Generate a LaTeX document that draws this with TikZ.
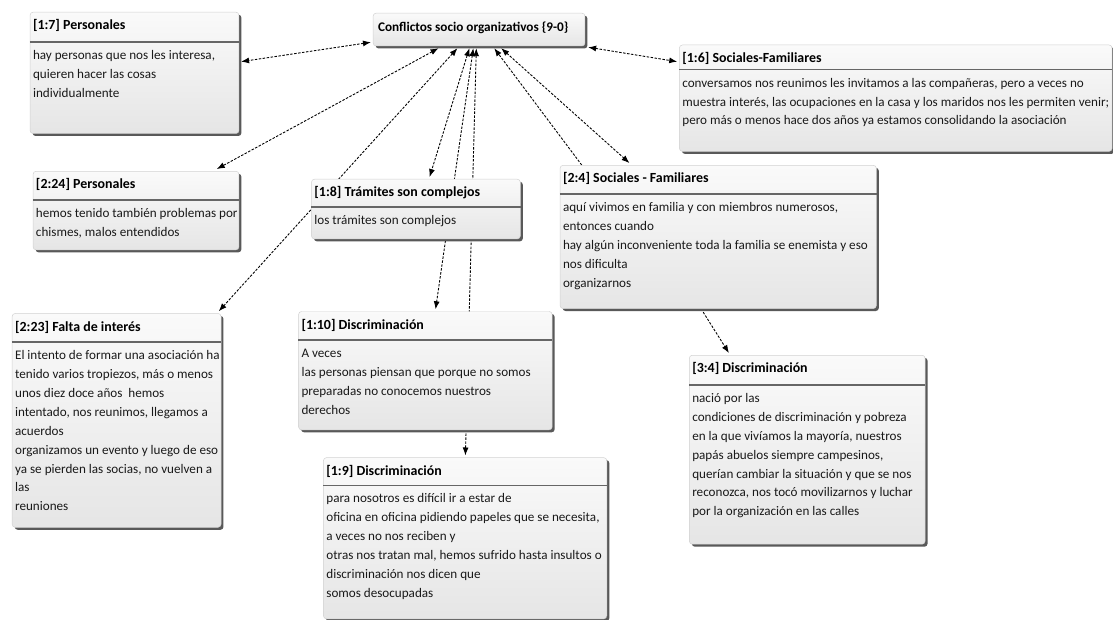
\documentclass[tikz,border=0pt]{standalone}
\usepackage{fontspec}
\setmainfont{Carlito}
\usetikzlibrary{arrows.meta,shadows,calc}
\pgfdeclarelayer{bg}
\pgfsetlayers{bg,main}
\tikzset{
  boxsty/.style={draw=gray!35, line width=0.5pt, rounded corners=3pt,
    top color=gray!4, bottom color=gray!20,
    drop shadow={shadow xshift=2.5pt, shadow yshift=-2.5pt, fill=black!65, opacity=1},
    inner sep=0pt},
  titlesty/.style={font=\fontsize{14}{16}\selectfont\bfseries, inner sep=0pt, anchor=base west, text=black},
  bodysty/.style={font=\fontsize{13.2}{19}\selectfont, inner sep=0pt, anchor=north west, align=left, text=black!90},
  sepsty/.style={draw=black!60, line width=1.5pt},
  conn/.style={draw=black, line width=0.9pt, dash pattern=on 2.5pt off 1.5pt},
  >={Latex[length=8pt,width=6pt]}
}
\newcommand\cbox[8]{%
  \node[boxsty, minimum width=#4pt, minimum height=#5pt, anchor=north west] (#1) at (#2,#3) {};
  \node[titlesty] (#1t) at ($(#1.north west)+(3,18)$) {#7};
  \draw[sepsty] ($(#1.north west)+(0,#6)$) -- ($(#1.north east)+(0,#6)$);
  \node[bodysty] (#1b) at ($(#1.north west)+(3,#6+7)$) {\rule{0pt}{10.5pt}#8};
}
\begin{document}
\begin{tikzpicture}[x=1pt,y=-1pt]
\begin{pgfonlayer}{bg}
\useasboundingbox[fill=white] (0,0) rectangle (1113,619);
\end{pgfonlayer}

% central
\node[boxsty, minimum width=213pt, minimum height=33pt, anchor=north west] (c) at (375,13) {};
\node[titlesty, font=\fontsize{13.3}{15}\selectfont\bfseries] (ct) at ($(c.north west)+(5,19)$) {Conflictos socio organizativos \{9-0\}};

\cbox{p17}{30}{12}{210}{122}{30}{[1:7] Personales}{hay personas que nos les interesa,\\quieren hacer las cosas\\individualmente}
\cbox{s16}{683}{45}{435}{107}{25}{[1:6] Sociales-Familiares}{conversamos nos reunimos les invitamos a las compañeras, pero a veces no\\muestra interés, las ocupaciones en la casa y los maridos nos les permiten venir;\\pero más o menos hace dos años ya estamos consolidando la asociación}
\cbox{p224}{33}{172}{207}{79}{29}{[2:24] Personales}{hemos tenido también problemas por\\chismes, malos entendidos}
\cbox{t18}{313}{180}{210}{60}{28}{[1:8] Trámites son complejos}{los trámites son complejos}
\cbox{s24}{563}{166}{318}{144}{29}{[2:4] Sociales - Familiares}{aquí vivimos en familia y con miembros numerosos,\\entonces cuando\\hay algún inconveniente toda la familia se enemista y eso\\nos dificulta\\organizarnos}
\cbox{p223}{12}{315}{210}{215}{29}{[2:23] Falta de interés}{El intento de formar una asociación ha\\tenido varios tropiezos, más o menos\\unos diez doce años\ \ hemos\\intentado, nos reunimos, llegamos a\\acuerdos\\organizamos un evento y luego de eso\\ya se pierden las socias, no vuelven a\\las\\reuniones}
\cbox{d110}{300}{313}{255}{119}{29}{[1:10] Discriminación}{A veces\\las personas piensan que porque no somos\\preparadas no conocemos nuestros\\derechos}
\cbox{d19}{325}{460}{285}{162}{28}{[1:9] Discriminación}{para nosotros es difícil ir a estar de\\oficina en oficina pidiendo papeles que se necesita,\\a veces no nos reciben y\\otras nos tratan mal, hemos sufrido hasta insultos o\\discriminación nos dicen que\\somos desocupadas}
\cbox{d34}{693}{357}{237}{190}{30}{[3:4] Discriminación}{nació por las\\condiciones de discriminación y pobreza\\en la que vivíamos la mayoría, nuestros\\papás abuelos siempre campesinos,\\querían cambiar la situación y que se nos\\reconozca, nos tocó movilizarnos y luchar\\por la organización en las calles}

\begin{pgfonlayer}{bg}
\draw[conn,<->] ($(c.south west)+(-2,-4)$) -- ($(p17.north east)+(2,50)$);
\draw[conn,<->] ($(c.south east)+(3,1)$) -- ($(s16.north west)+(-2,17)$);
\draw[conn,<->] ($(c.south west)+(66,2)$) -- ($(p224.north west)+(185,-2)$);
\draw[conn,<->] ($(c.south west)+(85,2)$) -- ($(p223.north west)+(208,-2)$);
\draw[conn,<->] ($(c.south west)+(97,2)$) -- ($(t18.north west)+(119,-2)$);
\draw[conn,<->] ($(c.south west)+(101,2)$) -- ($(d110.north west)+(138,-2)$);
\draw[conn,<->] ($(c.south west)+(104,2)$) -- ($(d19.north west)+(143,-2)$);
\draw[conn,->] ($(s24.north west)+(22,0)$) -- ($(c.south west)+(122,2)$);
\draw[conn,<->] ($(c.south west)+(129,2)$) -- ($(s24.north west)+(70,-2)$);
\draw[conn,->] ($(s24.south west)+(142,0)$) -- ($(d34.north west)+(40,-2)$);
\end{pgfonlayer}
\end{tikzpicture}
\end{document}
